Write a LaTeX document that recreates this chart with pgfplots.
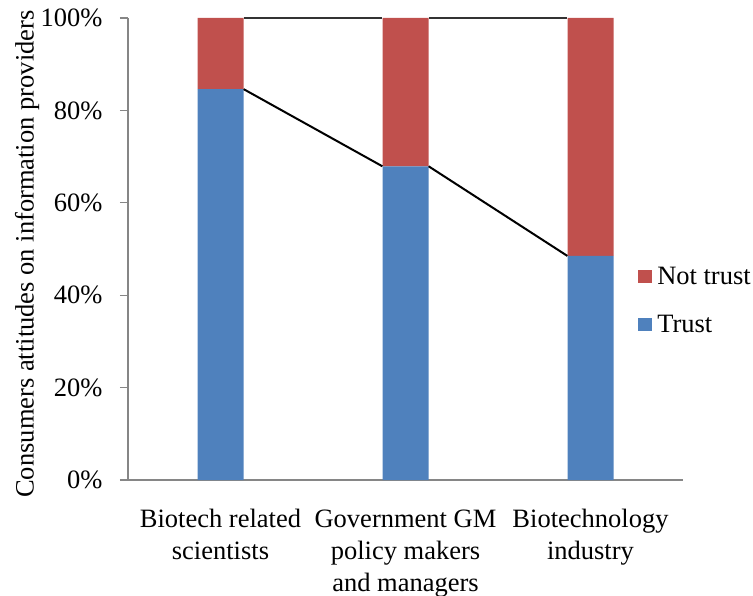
\documentclass[border=0pt]{standalone}
\usepackage{pgfplots}
\pgfplotsset{compat=1.18}
\usepackage{fontspec}
\setmainfont{Liberation Serif}
\definecolor{trustc}{HTML}{4F81BD}
\definecolor{notc}{HTML}{C0504D}
\definecolor{axc}{HTML}{868686}
\newcommand{\lbl}{\fontsize{26.5bp}{32bp}\selectfont}
\begin{document}
\begin{tikzpicture}
\path[use as bounding box] (0,0) rectangle (753bp,596bp);
\begin{axis}[
  at={(128bp,116bp)}, anchor=south west,
  scale only axis, width=555bp, height=462bp,
  xmin=-0.5, xmax=2.5, ymin=0, ymax=100,
  ybar stacked, bar width=46bp,
  axis x line*=bottom, axis y line*=left,
  axis line style={axc, line width=1.2bp},
  xtick=data, xtick style={draw=none},
  xticklabels={Biotech related\\scientists, Government GM\\policy makers\\and managers, Biotechnology\\industry},
  x tick label style={align=center, font=\lbl, anchor=north, yshift=-18bp},
  ytick={0,20,...,100},
  y tick style={axc, line width=1.2bp}, tick align=outside, major tick length=8bp,
  yticklabel={\pgfmathprintnumber{\tick}\%},
  /pgf/number format/assume math mode=true,
  y tick label style={font=\lbl, anchor=east, xshift=-14bp},
  ylabel={Consumers attitudes on information providers},
  ylabel style={font=\lbl, at={(rel axis cs:0,0.489)}, anchor=center, yshift=101bp},
  legend style={draw=none, fill=none, font=\lbl, at={(rel axis cs:0.919,0.466)}, anchor=north west, row sep=25bp, inner sep=0pt,
    nodes={inner xsep=5bp}},
  legend cell align=left,
  reverse legend,
  legend image code/.code={\fill[#1] (0bp,-6.5bp) rectangle (14bp,6.5bp);},
  clip=false,
]
\addplot[fill=trustc, draw=none] coordinates {(0,84.6) (1,67.9) (2,48.5)};
\addlegendentry{Trust}
\addplot[fill=notc, draw=none] coordinates {(0,15.4) (1,32.1) (2,51.5)};
\addlegendentry{Not trust}
\end{axis}
\begin{axis}[
  at={(128bp,116bp)}, anchor=south west,
  scale only axis, width=555bp, height=462bp,
  xmin=-0.5, xmax=2.5, ymin=0, ymax=100,
  hide axis, clip=false,
]
\addplot[black, line width=2bp, mark=none] coordinates {(0.125,84.6) (0.875,67.9)};
\addplot[black, line width=2bp, mark=none] coordinates {(1.125,67.9) (1.875,48.5)};
\addplot[black!80, line width=1.8bp, mark=none] coordinates {(0.125,100) (0.875,100)};
\addplot[black!80, line width=1.8bp, mark=none] coordinates {(1.125,100) (1.875,100)};
\end{axis}
\end{tikzpicture}
\end{document}
